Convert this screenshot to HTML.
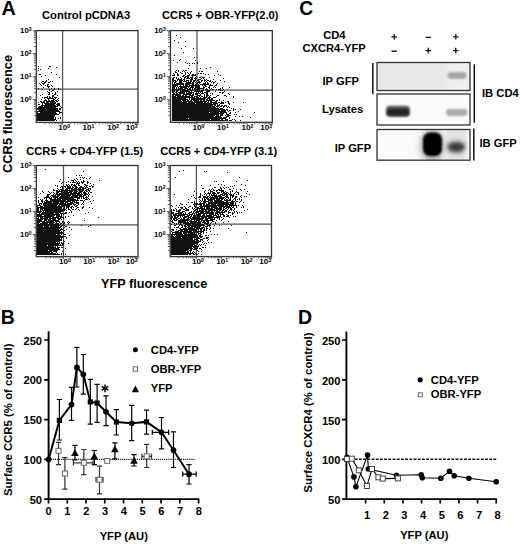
<!DOCTYPE html>
<html><head><meta charset="utf-8"><style>
html,body{margin:0;padding:0;background:#fff;}
svg{display:block;font-family:"Liberation Sans", sans-serif;}
</style></head><body>
<svg width="520" height="544" viewBox="0 0 520 544">
<rect width="520" height="544" fill="#fff"/>
<text x="1.40" y="15.30" font-size="19.8" text-anchor="start" font-weight="bold" >A</text>
<text x="42.00" y="19.10" font-size="11.2" text-anchor="start" font-weight="bold" >Control pCDNA3</text>
<text x="162.00" y="18.60" font-size="11.2" text-anchor="start" font-weight="bold" >CCR5 + OBR-YFP(2.0)</text>
<text x="26.20" y="155.00" font-size="11.2" text-anchor="start" font-weight="bold" >CCR5 + CD4-YFP (1.5)</text>
<text x="160.20" y="154.70" font-size="11.2" text-anchor="start" font-weight="bold" >CCR5 + CD4-YFP (3.1)</text>
<text transform="translate(12.3,113.9) rotate(-90)" font-size="12.9" text-anchor="middle" font-weight="bold">CCR5 fluorescence</text>
<text x="154.20" y="288.00" font-size="12.7" text-anchor="middle" font-weight="bold" >YFP fluorescence</text>
<line x1="62.60" y1="30.60" x2="62.60" y2="122.40" stroke="#555" stroke-width="1.25" />
<line x1="36.30" y1="89.00" x2="138.00" y2="89.00" stroke="#555" stroke-width="1.25" />
<path d="M38 66h1v1h-1zM49 66h2v1h-2zM56 67h1v1h-1zM38 68h1v1h-1zM48 68h1v1h-1zM40 69h1v1h-1zM38 70h1v1h-1zM51 72h1v1h-1zM39 74h2v1h-2zM56 74h1v1h-1zM45 75h1v1h-1zM41 76h1v1h-1zM59 77h1v1h-1zM48 79h1v1h-1zM46 80h1v1h-1zM42 81h2v1h-2zM45 81h2v1h-2zM50 81h1v1h-1zM52 81h1v1h-1zM41 82h1v1h-1zM44 82h2v1h-2zM48 82h2v1h-2zM39 83h1v1h-1zM42 83h3v1h-3zM40 84h1v1h-1zM43 84h1v1h-1zM47 84h2v1h-2zM41 85h1v1h-1zM45 85h1v1h-1zM47 85h1v1h-1zM51 85h1v1h-1zM47 86h3v1h-3zM52 86h1v1h-1zM43 87h1v1h-1zM48 87h1v1h-1zM38 88h1v1h-1zM51 88h1v1h-1zM54 88h1v1h-1zM58 88h1v1h-1zM42 89h1v1h-1zM49 89h1v1h-1zM54 89h1v1h-1zM58 89h1v1h-1zM60 89h1v1h-1zM49 90h1v1h-1zM52 90h2v1h-2zM47 91h1v1h-1zM51 91h1v1h-1zM57 91h1v1h-1zM48 92h2v1h-2zM55 92h1v1h-1zM49 93h1v1h-1zM52 93h1v1h-1zM55 93h1v1h-1zM42 94h1v1h-1zM48 94h2v1h-2zM54 94h2v1h-2zM40 95h1v1h-1zM52 95h2v1h-2zM57 95h1v1h-1zM47 96h1v1h-1zM49 96h1v1h-1zM52 96h2v1h-2zM42 97h1v1h-1zM44 97h4v1h-4zM49 97h2v1h-2zM52 97h1v1h-1zM54 97h3v1h-3zM44 98h1v1h-1zM47 98h7v1h-7zM55 98h1v1h-1zM58 98h1v1h-1zM41 99h1v1h-1zM45 99h1v1h-1zM48 99h1v1h-1zM53 99h2v1h-2zM57 99h1v1h-1zM44 100h3v1h-3zM48 100h2v1h-2zM51 100h3v1h-3zM55 100h2v1h-2zM58 100h1v1h-1zM62 100h1v1h-1zM40 101h2v1h-2zM43 101h2v1h-2zM46 101h9v1h-9zM56 101h2v1h-2zM38 102h1v1h-1zM41 102h4v1h-4zM46 102h3v1h-3zM50 102h6v1h-6zM62 102h1v1h-1zM42 103h1v1h-1zM44 103h12v1h-12zM57 103h3v1h-3zM38 104h2v1h-2zM42 104h1v1h-1zM45 104h10v1h-10zM56 104h4v1h-4zM41 105h15v1h-15zM57 105h3v1h-3zM39 106h4v1h-4zM44 106h14v1h-14zM60 106h1v1h-1zM38 107h18v1h-18zM61 107h1v1h-1zM37 108h21v1h-21zM59 108h2v1h-2zM37 109h21v1h-21zM59 109h2v1h-2zM39 110h20v1h-20zM37 111h23v1h-23zM37 112h1v1h-1zM40 112h16v1h-16zM59 112h3v1h-3zM37 113h20v1h-20zM59 113h1v1h-1zM37 114h22v1h-22zM37 115h18v1h-18zM37 116h18v1h-18zM37 117h17v1h-17zM55 117h1v1h-1zM60 117h1v1h-1zM37 118h17v1h-17zM55 118h1v1h-1zM58 118h1v1h-1zM60 118h1v1h-1zM37 119h19v1h-19zM37 120h18v1h-18zM56 120h1v1h-1z" fill="#111"/>
<rect x="36.30" y="30.60" width="101.70" height="91.80" fill="none" stroke="#333" stroke-width="1.3"/>
<path d="M32.70 30.60H36.30M33.90 46.68H36.30M33.90 42.63H36.30M33.90 39.75H36.30M33.90 37.52H36.30M33.90 35.70H36.30M33.90 34.16H36.30M33.90 32.83H36.30M33.90 31.65H36.30M32.70 53.60H36.30M33.90 69.68H36.30M33.90 65.63H36.30M33.90 62.75H36.30M33.90 60.52H36.30M33.90 58.70H36.30M33.90 57.16H36.30M33.90 55.83H36.30M33.90 54.65H36.30M32.70 76.60H36.30M33.90 92.68H36.30M33.90 88.63H36.30M33.90 85.75H36.30M33.90 83.52H36.30M33.90 81.70H36.30M33.90 80.16H36.30M33.90 78.83H36.30M33.90 77.65H36.30M32.70 99.60H36.30M33.90 115.68H36.30M33.90 111.63H36.30M33.90 108.75H36.30M33.90 106.52H36.30M33.90 104.70H36.30M33.90 103.16H36.30M33.90 101.83H36.30M33.90 100.65H36.30M45.03 122.40V124.20M49.46 122.40V124.20M52.60 122.40V124.20M55.03 122.40V124.20M57.02 122.40V124.20M58.71 122.40V124.20M60.16 122.40V124.20M61.45 122.40V124.20M62.60 122.40V125.00M70.17 122.40V124.20M74.59 122.40V124.20M77.73 122.40V124.20M80.17 122.40V124.20M82.16 122.40V124.20M83.84 122.40V124.20M85.30 122.40V124.20M86.58 122.40V124.20M87.73 122.40V125.00M95.30 122.40V124.20M99.72 122.40V124.20M102.87 122.40V124.20M105.30 122.40V124.20M107.29 122.40V124.20M108.97 122.40V124.20M110.43 122.40V124.20M111.72 122.40V124.20M112.87 122.40V125.00M120.43 122.40V124.20M124.86 122.40V124.20M128.00 122.40V124.20M130.43 122.40V124.20M132.42 122.40V124.20M134.11 122.40V124.20M135.56 122.40V124.20M136.85 122.40V124.20M138.00 122.40V125.00" stroke="#555" stroke-width="0.9" fill="none"/>
<text x="31.60" y="33.40" font-size="7.8" text-anchor="end" font-weight="bold">10<tspan font-size="5.1" dy="-2.6">3</tspan></text>
<text x="31.60" y="56.40" font-size="7.8" text-anchor="end" font-weight="bold">10<tspan font-size="5.1" dy="-2.6">2</tspan></text>
<text x="31.60" y="79.40" font-size="7.8" text-anchor="end" font-weight="bold">10<tspan font-size="5.1" dy="-2.6">1</tspan></text>
<text x="31.60" y="102.40" font-size="7.8" text-anchor="end" font-weight="bold">10<tspan font-size="5.1" dy="-2.6">0</tspan></text>
<text x="64.10" y="130.10" font-size="8.1" text-anchor="middle" font-weight="bold">10<tspan font-size="5.2" dy="-2.5">0</tspan></text>
<text x="88.48" y="130.10" font-size="8.1" text-anchor="middle" font-weight="bold">10<tspan font-size="5.2" dy="-2.5">1</tspan></text>
<text x="113.11" y="130.10" font-size="8.1" text-anchor="middle" font-weight="bold">10<tspan font-size="5.2" dy="-2.5">2</tspan></text>
<text x="131.80" y="130.10" font-size="8.1" text-anchor="middle" font-weight="bold">10<tspan font-size="5.2" dy="-2.5">3</tspan></text>
<line x1="197.00" y1="30.60" x2="197.00" y2="122.30" stroke="#555" stroke-width="1.25" />
<line x1="170.50" y1="90.00" x2="272.30" y2="90.00" stroke="#555" stroke-width="1.25" />
<path d="M176 35h1v1h-1zM180 37h1v1h-1zM174 40h1v1h-1zM185 41h1v1h-1zM178 42h1v1h-1zM185 46h1v1h-1zM181 48h1v1h-1zM193 48h1v1h-1zM183 52h1v1h-1zM174 55h1v1h-1zM194 57h1v1h-1zM180 59h1v1h-1zM173 60h1v1h-1zM179 60h1v1h-1zM195 60h1v1h-1zM177 62h1v1h-1zM185 62h1v1h-1zM197 62h1v1h-1zM187 63h1v1h-1zM189 63h1v1h-1zM192 63h1v1h-1zM194 63h1v1h-1zM197 63h1v1h-1zM189 65h1v1h-1zM210 67h1v1h-1zM188 68h1v1h-1zM200 68h1v1h-1zM206 68h1v1h-1zM176 70h1v1h-1zM178 70h1v1h-1zM183 70h1v1h-1zM185 70h2v1h-2zM175 71h1v1h-1zM178 71h1v1h-1zM182 71h1v1h-1zM184 71h1v1h-1zM191 71h1v1h-1zM199 71h1v1h-1zM201 71h2v1h-2zM217 71h1v1h-1zM175 72h2v1h-2zM180 72h1v1h-1zM185 72h1v1h-1zM187 72h1v1h-1zM190 72h1v1h-1zM173 73h1v1h-1zM177 73h1v1h-1zM181 73h2v1h-2zM185 73h1v1h-1zM188 73h1v1h-1zM190 73h1v1h-1zM198 73h1v1h-1zM200 73h2v1h-2zM203 73h1v1h-1zM174 74h1v1h-1zM177 74h2v1h-2zM185 74h1v1h-1zM189 74h1v1h-1zM192 74h2v1h-2zM195 74h1v1h-1zM205 74h1v1h-1zM208 74h1v1h-1zM218 74h1v1h-1zM172 75h3v1h-3zM177 75h2v1h-2zM183 75h2v1h-2zM187 75h3v1h-3zM191 75h5v1h-5zM214 75h1v1h-1zM220 75h1v1h-1zM182 76h2v1h-2zM185 76h4v1h-4zM192 76h1v1h-1zM196 76h1v1h-1zM201 76h1v1h-1zM173 77h2v1h-2zM176 77h1v1h-1zM180 77h1v1h-1zM184 77h2v1h-2zM187 77h2v1h-2zM190 77h3v1h-3zM195 77h1v1h-1zM199 77h2v1h-2zM202 77h3v1h-3zM209 77h1v1h-1zM172 78h2v1h-2zM176 78h1v1h-1zM178 78h1v1h-1zM181 78h1v1h-1zM184 78h1v1h-1zM186 78h4v1h-4zM191 78h2v1h-2zM194 78h3v1h-3zM201 78h1v1h-1zM203 78h1v1h-1zM223 78h1v1h-1zM172 79h2v1h-2zM177 79h5v1h-5zM183 79h2v1h-2zM190 79h3v1h-3zM195 79h1v1h-1zM198 79h3v1h-3zM204 79h1v1h-1zM206 79h1v1h-1zM213 79h1v1h-1zM172 80h4v1h-4zM177 80h1v1h-1zM179 80h4v1h-4zM184 80h1v1h-1zM186 80h3v1h-3zM190 80h2v1h-2zM193 80h3v1h-3zM197 80h2v1h-2zM201 80h2v1h-2zM204 80h2v1h-2zM207 80h2v1h-2zM210 80h1v1h-1zM220 80h1v1h-1zM172 81h2v1h-2zM175 81h2v1h-2zM179 81h3v1h-3zM183 81h4v1h-4zM188 81h1v1h-1zM190 81h2v1h-2zM193 81h2v1h-2zM196 81h1v1h-1zM198 81h2v1h-2zM201 81h1v1h-1zM204 81h1v1h-1zM206 81h1v1h-1zM209 81h2v1h-2zM212 81h1v1h-1zM215 81h1v1h-1zM224 81h1v1h-1zM172 82h1v1h-1zM174 82h2v1h-2zM179 82h3v1h-3zM186 82h5v1h-5zM192 82h2v1h-2zM195 82h1v1h-1zM197 82h4v1h-4zM205 82h1v1h-1zM207 82h1v1h-1zM211 82h1v1h-1zM213 82h2v1h-2zM172 83h1v1h-1zM174 83h1v1h-1zM176 83h8v1h-8zM185 83h9v1h-9zM196 83h2v1h-2zM199 83h1v1h-1zM203 83h3v1h-3zM207 83h2v1h-2zM213 83h1v1h-1zM217 83h1v1h-1zM172 84h12v1h-12zM185 84h5v1h-5zM192 84h2v1h-2zM195 84h2v1h-2zM198 84h1v1h-1zM200 84h9v1h-9zM210 84h1v1h-1zM216 84h1v1h-1zM172 85h6v1h-6zM180 85h1v1h-1zM183 85h1v1h-1zM185 85h3v1h-3zM189 85h11v1h-11zM202 85h1v1h-1zM204 85h2v1h-2zM209 85h4v1h-4zM215 85h2v1h-2zM172 86h4v1h-4zM177 86h1v1h-1zM179 86h11v1h-11zM191 86h3v1h-3zM195 86h5v1h-5zM203 86h1v1h-1zM205 86h2v1h-2zM209 86h1v1h-1zM214 86h1v1h-1zM172 87h3v1h-3zM176 87h1v1h-1zM178 87h1v1h-1zM180 87h7v1h-7zM188 87h1v1h-1zM190 87h4v1h-4zM195 87h5v1h-5zM203 87h2v1h-2zM208 87h2v1h-2zM213 87h1v1h-1zM215 87h1v1h-1zM222 87h1v1h-1zM229 87h1v1h-1zM172 88h3v1h-3zM176 88h1v1h-1zM178 88h5v1h-5zM184 88h4v1h-4zM189 88h2v1h-2zM192 88h1v1h-1zM194 88h2v1h-2zM197 88h7v1h-7zM206 88h1v1h-1zM209 88h1v1h-1zM211 88h1v1h-1zM220 88h1v1h-1zM222 88h1v1h-1zM172 89h14v1h-14zM187 89h4v1h-4zM192 89h1v1h-1zM194 89h6v1h-6zM203 89h1v1h-1zM205 89h3v1h-3zM210 89h1v1h-1zM212 89h2v1h-2zM216 89h1v1h-1zM218 89h3v1h-3zM223 89h1v1h-1zM172 90h3v1h-3zM176 90h3v1h-3zM180 90h1v1h-1zM182 90h7v1h-7zM190 90h4v1h-4zM195 90h1v1h-1zM197 90h3v1h-3zM201 90h3v1h-3zM207 90h3v1h-3zM220 90h1v1h-1zM222 90h1v1h-1zM172 91h3v1h-3zM176 91h2v1h-2zM180 91h10v1h-10zM191 91h1v1h-1zM194 91h9v1h-9zM206 91h4v1h-4zM215 91h1v1h-1zM224 91h1v1h-1zM172 92h2v1h-2zM175 92h2v1h-2zM178 92h7v1h-7zM186 92h1v1h-1zM188 92h6v1h-6zM196 92h1v1h-1zM198 92h1v1h-1zM200 92h1v1h-1zM202 92h1v1h-1zM204 92h4v1h-4zM219 92h2v1h-2zM222 92h2v1h-2zM173 93h2v1h-2zM176 93h2v1h-2zM179 93h6v1h-6zM186 93h6v1h-6zM193 93h1v1h-1zM195 93h5v1h-5zM201 93h3v1h-3zM206 93h2v1h-2zM210 93h1v1h-1zM212 93h1v1h-1zM222 93h1v1h-1zM228 93h1v1h-1zM172 94h9v1h-9zM183 94h8v1h-8zM192 94h2v1h-2zM195 94h3v1h-3zM200 94h1v1h-1zM204 94h1v1h-1zM206 94h2v1h-2zM212 94h1v1h-1zM229 94h1v1h-1zM172 95h2v1h-2zM175 95h6v1h-6zM182 95h2v1h-2zM185 95h2v1h-2zM189 95h5v1h-5zM197 95h4v1h-4zM204 95h1v1h-1zM206 95h3v1h-3zM210 95h1v1h-1zM217 95h2v1h-2zM224 95h2v1h-2zM172 96h4v1h-4zM177 96h13v1h-13zM191 96h2v1h-2zM194 96h4v1h-4zM199 96h1v1h-1zM201 96h2v1h-2zM204 96h1v1h-1zM206 96h2v1h-2zM209 96h1v1h-1zM216 96h1v1h-1zM226 96h1v1h-1zM233 96h1v1h-1zM172 97h23v1h-23zM196 97h3v1h-3zM200 97h1v1h-1zM203 97h4v1h-4zM208 97h3v1h-3zM213 97h3v1h-3zM233 97h1v1h-1zM172 98h14v1h-14zM189 98h1v1h-1zM191 98h15v1h-15zM207 98h3v1h-3zM211 98h2v1h-2zM172 99h16v1h-16zM189 99h1v1h-1zM191 99h14v1h-14zM206 99h2v1h-2zM209 99h4v1h-4zM219 99h1v1h-1zM172 100h9v1h-9zM182 100h4v1h-4zM187 100h2v1h-2zM190 100h2v1h-2zM193 100h6v1h-6zM200 100h2v1h-2zM203 100h2v1h-2zM206 100h9v1h-9zM216 100h2v1h-2zM219 100h1v1h-1zM223 100h1v1h-1zM172 101h10v1h-10zM183 101h10v1h-10zM194 101h13v1h-13zM208 101h1v1h-1zM210 101h2v1h-2zM215 101h2v1h-2zM221 101h1v1h-1zM227 101h2v1h-2zM172 102h15v1h-15zM188 102h15v1h-15zM204 102h2v1h-2zM207 102h2v1h-2zM210 102h7v1h-7zM218 102h2v1h-2zM221 102h3v1h-3zM225 102h1v1h-1zM228 102h1v1h-1zM233 102h1v1h-1zM243 102h1v1h-1zM172 103h23v1h-23zM196 103h16v1h-16zM213 103h5v1h-5zM220 103h4v1h-4zM228 103h2v1h-2zM172 104h44v1h-44zM217 104h1v1h-1zM219 104h1v1h-1zM229 104h1v1h-1zM172 105h41v1h-41zM214 105h2v1h-2zM217 105h3v1h-3zM221 105h2v1h-2zM224 105h3v1h-3zM172 106h43v1h-43zM216 106h3v1h-3zM220 106h2v1h-2zM223 106h2v1h-2zM226 106h1v1h-1zM228 106h1v1h-1zM172 107h44v1h-44zM217 107h1v1h-1zM219 107h1v1h-1zM223 107h1v1h-1zM227 107h1v1h-1zM229 107h1v1h-1zM172 108h47v1h-47zM220 108h3v1h-3zM231 108h1v1h-1zM233 108h1v1h-1zM172 109h53v1h-53zM226 109h2v1h-2zM233 109h1v1h-1zM235 109h1v1h-1zM240 109h1v1h-1zM172 110h48v1h-48zM221 110h5v1h-5zM227 110h1v1h-1zM229 110h2v1h-2zM233 110h1v1h-1zM172 111h54v1h-54zM228 111h1v1h-1zM238 111h1v1h-1zM172 112h37v1h-37zM210 112h9v1h-9zM220 112h7v1h-7zM230 112h1v1h-1zM235 112h1v1h-1zM254 112h1v1h-1zM172 113h52v1h-52zM226 113h1v1h-1zM229 113h2v1h-2zM172 114h47v1h-47zM220 114h3v1h-3zM226 114h3v1h-3zM234 114h1v1h-1zM236 114h1v1h-1zM172 115h43v1h-43zM216 115h3v1h-3zM220 115h3v1h-3zM225 115h1v1h-1zM227 115h4v1h-4zM172 116h42v1h-42zM215 116h6v1h-6zM226 116h3v1h-3zM235 116h1v1h-1zM239 116h1v1h-1zM242 116h1v1h-1zM172 117h50v1h-50zM223 117h4v1h-4zM229 117h1v1h-1zM250 117h1v1h-1zM172 118h16v1h-16zM189 118h37v1h-37zM229 118h1v1h-1zM172 119h38v1h-38zM211 119h9v1h-9zM221 119h2v1h-2zM225 119h3v1h-3zM232 119h1v1h-1zM234 119h1v1h-1zM172 120h56v1h-56zM229 120h3v1h-3zM235 120h1v1h-1zM240 120h1v1h-1z" fill="#111"/>
<rect x="170.50" y="30.60" width="101.80" height="91.70" fill="none" stroke="#333" stroke-width="1.3"/>
<path d="M166.90 30.60H170.50M168.10 46.68H170.50M168.10 42.63H170.50M168.10 39.75H170.50M168.10 37.52H170.50M168.10 35.70H170.50M168.10 34.16H170.50M168.10 32.83H170.50M168.10 31.65H170.50M166.90 53.60H170.50M168.10 69.68H170.50M168.10 65.63H170.50M168.10 62.75H170.50M168.10 60.52H170.50M168.10 58.70H170.50M168.10 57.16H170.50M168.10 55.83H170.50M168.10 54.65H170.50M166.90 76.60H170.50M168.10 92.68H170.50M168.10 88.63H170.50M168.10 85.75H170.50M168.10 83.52H170.50M168.10 81.70H170.50M168.10 80.16H170.50M168.10 78.83H170.50M168.10 77.65H170.50M166.90 99.60H170.50M168.10 115.68H170.50M168.10 111.63H170.50M168.10 108.75H170.50M168.10 106.52H170.50M168.10 104.70H170.50M168.10 103.16H170.50M168.10 101.83H170.50M168.10 100.65H170.50M179.46 122.30V124.10M183.88 122.30V124.10M187.01 122.30V124.10M189.44 122.30V124.10M191.43 122.30V124.10M193.11 122.30V124.10M194.57 122.30V124.10M195.85 122.30V124.10M197.00 122.30V124.90M204.56 122.30V124.10M208.98 122.30V124.10M212.11 122.30V124.10M214.54 122.30V124.10M216.53 122.30V124.10M218.21 122.30V124.10M219.67 122.30V124.10M220.95 122.30V124.10M222.10 122.30V124.90M229.66 122.30V124.10M234.08 122.30V124.10M237.21 122.30V124.10M239.64 122.30V124.10M241.63 122.30V124.10M243.31 122.30V124.10M244.77 122.30V124.10M246.05 122.30V124.10M247.20 122.30V124.90M254.76 122.30V124.10M259.18 122.30V124.10M262.31 122.30V124.10M264.74 122.30V124.10M266.73 122.30V124.10M268.41 122.30V124.10M269.87 122.30V124.10M271.15 122.30V124.10M272.30 122.30V124.90" stroke="#555" stroke-width="0.9" fill="none"/>
<text x="165.80" y="33.40" font-size="7.8" text-anchor="end" font-weight="bold">10<tspan font-size="5.1" dy="-2.6">3</tspan></text>
<text x="165.80" y="56.40" font-size="7.8" text-anchor="end" font-weight="bold">10<tspan font-size="5.1" dy="-2.6">2</tspan></text>
<text x="165.80" y="79.40" font-size="7.8" text-anchor="end" font-weight="bold">10<tspan font-size="5.1" dy="-2.6">1</tspan></text>
<text x="165.80" y="102.40" font-size="7.8" text-anchor="end" font-weight="bold">10<tspan font-size="5.1" dy="-2.6">0</tspan></text>
<text x="198.50" y="130.00" font-size="8.1" text-anchor="middle" font-weight="bold">10<tspan font-size="5.2" dy="-2.5">0</tspan></text>
<text x="222.85" y="130.00" font-size="8.1" text-anchor="middle" font-weight="bold">10<tspan font-size="5.2" dy="-2.5">1</tspan></text>
<text x="247.44" y="130.00" font-size="8.1" text-anchor="middle" font-weight="bold">10<tspan font-size="5.2" dy="-2.5">2</tspan></text>
<text x="266.10" y="130.00" font-size="8.1" text-anchor="middle" font-weight="bold">10<tspan font-size="5.2" dy="-2.5">3</tspan></text>
<line x1="63.50" y1="165.50" x2="63.50" y2="256.60" stroke="#555" stroke-width="1.25" />
<line x1="36.30" y1="224.90" x2="138.00" y2="224.90" stroke="#555" stroke-width="1.25" />
<path d="M45 169h1v1h-1zM83 171h1v1h-1zM76 175h1v1h-1zM79 175h1v1h-1zM81 175h1v1h-1zM68 177h1v1h-1zM80 177h1v1h-1zM82 177h1v1h-1zM84 177h1v1h-1zM90 177h1v1h-1zM76 178h1v1h-1zM83 178h1v1h-1zM86 178h1v1h-1zM89 178h1v1h-1zM60 179h1v1h-1zM74 179h1v1h-1zM77 179h1v1h-1zM80 179h1v1h-1zM71 180h3v1h-3zM75 180h1v1h-1zM83 180h1v1h-1zM99 180h1v1h-1zM59 181h1v1h-1zM68 181h1v1h-1zM73 181h1v1h-1zM76 181h1v1h-1zM78 181h1v1h-1zM81 181h1v1h-1zM83 181h2v1h-2zM87 181h1v1h-1zM62 182h1v1h-1zM66 182h1v1h-1zM70 182h1v1h-1zM72 182h4v1h-4zM77 182h1v1h-1zM79 182h1v1h-1zM81 182h3v1h-3zM87 182h2v1h-2zM61 183h1v1h-1zM76 183h4v1h-4zM82 183h1v1h-1zM87 183h1v1h-1zM90 183h1v1h-1zM66 184h1v1h-1zM68 184h1v1h-1zM71 184h2v1h-2zM74 184h1v1h-1zM76 184h1v1h-1zM78 184h1v1h-1zM84 184h2v1h-2zM93 184h1v1h-1zM55 185h1v1h-1zM57 185h1v1h-1zM66 185h2v1h-2zM69 185h1v1h-1zM71 185h1v1h-1zM73 185h3v1h-3zM78 185h2v1h-2zM85 185h3v1h-3zM91 185h1v1h-1zM57 186h1v1h-1zM61 186h2v1h-2zM64 186h2v1h-2zM67 186h4v1h-4zM72 186h1v1h-1zM74 186h3v1h-3zM80 186h2v1h-2zM84 186h1v1h-1zM86 186h1v1h-1zM89 186h2v1h-2zM92 186h2v1h-2zM60 187h1v1h-1zM62 187h1v1h-1zM65 187h1v1h-1zM67 187h4v1h-4zM72 187h2v1h-2zM75 187h3v1h-3zM79 187h5v1h-5zM85 187h3v1h-3zM92 187h1v1h-1zM57 188h1v1h-1zM62 188h1v1h-1zM66 188h7v1h-7zM74 188h3v1h-3zM78 188h3v1h-3zM82 188h4v1h-4zM88 188h3v1h-3zM53 189h1v1h-1zM58 189h1v1h-1zM60 189h3v1h-3zM65 189h3v1h-3zM69 189h1v1h-1zM71 189h13v1h-13zM86 189h3v1h-3zM90 189h1v1h-1zM53 190h2v1h-2zM56 190h2v1h-2zM59 190h1v1h-1zM61 190h16v1h-16zM78 190h6v1h-6zM85 190h2v1h-2zM88 190h2v1h-2zM42 191h1v1h-1zM48 191h1v1h-1zM56 191h7v1h-7zM64 191h4v1h-4zM69 191h4v1h-4zM74 191h4v1h-4zM79 191h4v1h-4zM84 191h1v1h-1zM86 191h2v1h-2zM89 191h1v1h-1zM43 192h1v1h-1zM49 192h1v1h-1zM51 192h1v1h-1zM53 192h1v1h-1zM56 192h3v1h-3zM61 192h11v1h-11zM73 192h4v1h-4zM78 192h4v1h-4zM83 192h3v1h-3zM88 192h1v1h-1zM90 192h2v1h-2zM40 193h1v1h-1zM50 193h1v1h-1zM54 193h1v1h-1zM56 193h2v1h-2zM59 193h10v1h-10zM70 193h10v1h-10zM81 193h1v1h-1zM83 193h4v1h-4zM88 193h1v1h-1zM47 194h3v1h-3zM53 194h1v1h-1zM55 194h21v1h-21zM77 194h6v1h-6zM84 194h4v1h-4zM89 194h1v1h-1zM47 195h2v1h-2zM51 195h5v1h-5zM57 195h3v1h-3zM61 195h10v1h-10zM72 195h10v1h-10zM83 195h3v1h-3zM88 195h1v1h-1zM46 196h3v1h-3zM50 196h1v1h-1zM52 196h7v1h-7zM60 196h10v1h-10zM71 196h7v1h-7zM79 196h5v1h-5zM86 196h1v1h-1zM88 196h1v1h-1zM92 196h1v1h-1zM38 197h1v1h-1zM44 197h6v1h-6zM51 197h1v1h-1zM53 197h5v1h-5zM59 197h21v1h-21zM81 197h1v1h-1zM83 197h1v1h-1zM85 197h3v1h-3zM44 198h1v1h-1zM46 198h1v1h-1zM49 198h3v1h-3zM54 198h2v1h-2zM57 198h17v1h-17zM77 198h3v1h-3zM81 198h1v1h-1zM83 198h2v1h-2zM86 198h1v1h-1zM88 198h1v1h-1zM40 199h1v1h-1zM42 199h1v1h-1zM46 199h1v1h-1zM50 199h11v1h-11zM62 199h14v1h-14zM77 199h1v1h-1zM85 199h3v1h-3zM89 199h1v1h-1zM38 200h1v1h-1zM41 200h2v1h-2zM45 200h3v1h-3zM50 200h16v1h-16zM67 200h12v1h-12zM80 200h3v1h-3zM84 200h1v1h-1zM93 200h1v1h-1zM38 201h1v1h-1zM41 201h2v1h-2zM44 201h1v1h-1zM46 201h25v1h-25zM72 201h3v1h-3zM76 201h1v1h-1zM83 201h1v1h-1zM90 201h1v1h-1zM38 202h1v1h-1zM42 202h1v1h-1zM44 202h8v1h-8zM53 202h6v1h-6zM60 202h4v1h-4zM65 202h3v1h-3zM70 202h3v1h-3zM74 202h5v1h-5zM83 202h1v1h-1zM39 203h3v1h-3zM43 203h23v1h-23zM67 203h7v1h-7zM76 203h3v1h-3zM82 203h1v1h-1zM91 203h1v1h-1zM39 204h1v1h-1zM41 204h1v1h-1zM43 204h15v1h-15zM59 204h13v1h-13zM73 204h3v1h-3zM78 204h1v1h-1zM81 204h1v1h-1zM83 204h1v1h-1zM37 205h4v1h-4zM43 205h14v1h-14zM58 205h2v1h-2zM61 205h9v1h-9zM74 205h1v1h-1zM76 205h2v1h-2zM37 206h1v1h-1zM40 206h3v1h-3zM44 206h21v1h-21zM66 206h4v1h-4zM71 206h2v1h-2zM75 206h2v1h-2zM83 206h1v1h-1zM37 207h25v1h-25zM64 207h1v1h-1zM66 207h3v1h-3zM70 207h2v1h-2zM73 207h1v1h-1zM77 207h2v1h-2zM82 207h2v1h-2zM89 207h1v1h-1zM37 208h2v1h-2zM40 208h22v1h-22zM63 208h2v1h-2zM66 208h1v1h-1zM68 208h1v1h-1zM71 208h1v1h-1zM76 208h1v1h-1zM82 208h1v1h-1zM92 208h1v1h-1zM37 209h2v1h-2zM40 209h3v1h-3zM44 209h22v1h-22zM68 209h2v1h-2zM72 209h2v1h-2zM75 209h1v1h-1zM78 209h1v1h-1zM37 210h2v1h-2zM40 210h1v1h-1zM42 210h23v1h-23zM66 210h1v1h-1zM70 210h1v1h-1zM79 210h1v1h-1zM37 211h5v1h-5zM43 211h1v1h-1zM45 211h18v1h-18zM71 211h1v1h-1zM37 212h4v1h-4zM42 212h19v1h-19zM65 212h2v1h-2zM69 212h1v1h-1zM71 212h1v1h-1zM88 212h1v1h-1zM39 213h1v1h-1zM41 213h13v1h-13zM55 213h4v1h-4zM60 213h3v1h-3zM64 213h3v1h-3zM85 213h1v1h-1zM37 214h23v1h-23zM61 214h1v1h-1zM63 214h1v1h-1zM37 215h5v1h-5zM44 215h11v1h-11zM56 215h4v1h-4zM61 215h1v1h-1zM73 215h1v1h-1zM37 216h17v1h-17zM56 216h6v1h-6zM65 216h1v1h-1zM68 216h1v1h-1zM38 217h1v1h-1zM40 217h3v1h-3zM44 217h7v1h-7zM52 217h7v1h-7zM60 217h4v1h-4zM65 217h1v1h-1zM98 217h1v1h-1zM37 218h2v1h-2zM40 218h8v1h-8zM49 218h7v1h-7zM57 218h4v1h-4zM63 218h1v1h-1zM37 219h6v1h-6zM44 219h7v1h-7zM52 219h4v1h-4zM58 219h2v1h-2zM61 219h1v1h-1zM37 220h5v1h-5zM44 220h3v1h-3zM48 220h11v1h-11zM84 220h1v1h-1zM37 221h8v1h-8zM46 221h8v1h-8zM55 221h5v1h-5zM62 221h1v1h-1zM68 221h1v1h-1zM37 222h3v1h-3zM42 222h13v1h-13zM56 222h1v1h-1zM59 222h1v1h-1zM62 222h1v1h-1zM64 222h1v1h-1zM67 222h1v1h-1zM69 222h1v1h-1zM37 223h2v1h-2zM40 223h8v1h-8zM49 223h5v1h-5zM55 223h4v1h-4zM60 223h2v1h-2zM63 223h2v1h-2zM68 223h1v1h-1zM37 224h22v1h-22zM60 224h1v1h-1zM63 224h1v1h-1zM37 225h23v1h-23zM61 225h2v1h-2zM64 225h1v1h-1zM81 225h1v1h-1zM90 225h1v1h-1zM37 226h6v1h-6zM44 226h5v1h-5zM50 226h9v1h-9zM60 226h2v1h-2zM65 226h2v1h-2zM88 226h1v1h-1zM37 227h24v1h-24zM64 227h1v1h-1zM69 227h1v1h-1zM37 228h23v1h-23zM61 228h1v1h-1zM63 228h1v1h-1zM37 229h22v1h-22zM60 229h3v1h-3zM66 229h1v1h-1zM71 229h1v1h-1zM37 230h24v1h-24zM64 230h1v1h-1zM37 231h23v1h-23zM61 231h1v1h-1zM63 231h1v1h-1zM37 232h26v1h-26zM37 233h27v1h-27zM37 234h19v1h-19zM57 234h3v1h-3zM61 234h1v1h-1zM63 234h3v1h-3zM37 235h24v1h-24zM69 235h1v1h-1zM37 236h29v1h-29zM37 237h26v1h-26zM66 237h1v1h-1zM37 238h23v1h-23zM61 238h1v1h-1zM66 238h1v1h-1zM37 239h25v1h-25zM37 240h25v1h-25zM63 240h1v1h-1zM37 241h23v1h-23zM64 241h1v1h-1zM37 242h19v1h-19zM57 242h1v1h-1zM59 242h1v1h-1zM61 242h1v1h-1zM63 242h1v1h-1zM37 243h23v1h-23zM61 243h3v1h-3zM68 243h1v1h-1zM37 244h22v1h-22zM60 244h1v1h-1zM62 244h2v1h-2zM37 245h10v1h-10zM48 245h15v1h-15zM37 246h17v1h-17zM55 246h1v1h-1zM57 246h1v1h-1zM37 247h19v1h-19zM57 247h3v1h-3zM61 247h2v1h-2zM37 248h22v1h-22zM65 248h1v1h-1zM37 249h23v1h-23zM37 250h11v1h-11zM49 250h9v1h-9zM37 251h15v1h-15zM53 251h4v1h-4zM62 251h1v1h-1zM37 252h13v1h-13zM51 252h2v1h-2zM56 252h1v1h-1zM37 253h19v1h-19zM57 253h1v1h-1zM61 253h1v1h-1zM63 253h1v1h-1zM37 254h23v1h-23zM61 254h1v1h-1zM65 254h1v1h-1z" fill="#111"/>
<rect x="36.30" y="165.50" width="101.70" height="91.10" fill="none" stroke="#333" stroke-width="1.3"/>
<path d="M32.70 165.50H36.30M33.90 181.58H36.30M33.90 177.53H36.30M33.90 174.65H36.30M33.90 172.42H36.30M33.90 170.60H36.30M33.90 169.06H36.30M33.90 167.73H36.30M33.90 166.55H36.30M32.70 188.50H36.30M33.90 204.58H36.30M33.90 200.53H36.30M33.90 197.65H36.30M33.90 195.42H36.30M33.90 193.60H36.30M33.90 192.06H36.30M33.90 190.73H36.30M33.90 189.55H36.30M32.70 211.50H36.30M33.90 227.58H36.30M33.90 223.53H36.30M33.90 220.65H36.30M33.90 218.42H36.30M33.90 216.60H36.30M33.90 215.06H36.30M33.90 213.73H36.30M33.90 212.55H36.30M32.70 234.50H36.30M33.90 250.58H36.30M33.90 246.53H36.30M33.90 243.65H36.30M33.90 241.42H36.30M33.90 239.60H36.30M33.90 238.06H36.30M33.90 236.73H36.30M33.90 235.55H36.30M46.14 256.60V258.40M50.52 256.60V258.40M53.62 256.60V258.40M56.02 256.60V258.40M57.99 256.60V258.40M59.65 256.60V258.40M61.09 256.60V258.40M62.36 256.60V258.40M63.50 256.60V259.20M70.98 256.60V258.40M75.35 256.60V258.40M78.45 256.60V258.40M80.86 256.60V258.40M82.82 256.60V258.40M84.49 256.60V258.40M85.93 256.60V258.40M87.20 256.60V258.40M88.33 256.60V259.20M95.81 256.60V258.40M100.18 256.60V258.40M103.28 256.60V258.40M105.69 256.60V258.40M107.66 256.60V258.40M109.32 256.60V258.40M110.76 256.60V258.40M112.03 256.60V258.40M113.17 256.60V259.20M120.64 256.60V258.40M125.02 256.60V258.40M128.12 256.60V258.40M130.52 256.60V258.40M132.49 256.60V258.40M134.15 256.60V258.40M135.59 256.60V258.40M136.86 256.60V258.40M138.00 256.60V259.20" stroke="#555" stroke-width="0.9" fill="none"/>
<text x="31.60" y="168.30" font-size="7.8" text-anchor="end" font-weight="bold">10<tspan font-size="5.1" dy="-2.6">3</tspan></text>
<text x="31.60" y="191.30" font-size="7.8" text-anchor="end" font-weight="bold">10<tspan font-size="5.1" dy="-2.6">2</tspan></text>
<text x="31.60" y="214.30" font-size="7.8" text-anchor="end" font-weight="bold">10<tspan font-size="5.1" dy="-2.6">1</tspan></text>
<text x="31.60" y="237.30" font-size="7.8" text-anchor="end" font-weight="bold">10<tspan font-size="5.1" dy="-2.6">0</tspan></text>
<text x="65.00" y="264.30" font-size="8.1" text-anchor="middle" font-weight="bold">10<tspan font-size="5.2" dy="-2.5">0</tspan></text>
<text x="89.09" y="264.30" font-size="8.1" text-anchor="middle" font-weight="bold">10<tspan font-size="5.2" dy="-2.5">1</tspan></text>
<text x="113.42" y="264.30" font-size="8.1" text-anchor="middle" font-weight="bold">10<tspan font-size="5.2" dy="-2.5">2</tspan></text>
<text x="131.80" y="264.30" font-size="8.1" text-anchor="middle" font-weight="bold">10<tspan font-size="5.2" dy="-2.5">3</tspan></text>
<line x1="196.40" y1="165.50" x2="196.40" y2="256.60" stroke="#555" stroke-width="1.25" />
<line x1="170.20" y1="224.20" x2="271.50" y2="224.20" stroke="#555" stroke-width="1.25" />
<path d="M183 170h1v1h-1zM179 171h1v1h-1zM204 171h1v1h-1zM206 171h1v1h-1zM227 172h1v1h-1zM175 177h1v1h-1zM239 177h1v1h-1zM247 180h1v1h-1zM214 181h1v1h-1zM216 181h1v1h-1zM223 181h1v1h-1zM236 181h1v1h-1zM218 184h1v1h-1zM221 184h1v1h-1zM241 184h1v1h-1zM201 185h1v1h-1zM210 185h1v1h-1zM224 185h1v1h-1zM234 185h1v1h-1zM245 185h1v1h-1zM230 186h1v1h-1zM232 186h1v1h-1zM214 187h2v1h-2zM220 187h1v1h-1zM223 187h1v1h-1zM226 187h1v1h-1zM228 187h1v1h-1zM202 188h2v1h-2zM212 188h1v1h-1zM220 188h2v1h-2zM224 188h1v1h-1zM233 188h1v1h-1zM209 189h1v1h-1zM211 189h1v1h-1zM213 189h1v1h-1zM218 189h2v1h-2zM221 189h1v1h-1zM229 189h2v1h-2zM236 189h1v1h-1zM240 189h1v1h-1zM244 189h1v1h-1zM205 190h1v1h-1zM208 190h1v1h-1zM210 190h1v1h-1zM213 190h2v1h-2zM216 190h2v1h-2zM219 190h5v1h-5zM232 190h1v1h-1zM241 190h1v1h-1zM194 191h1v1h-1zM204 191h1v1h-1zM210 191h3v1h-3zM216 191h1v1h-1zM221 191h3v1h-3zM225 191h1v1h-1zM230 191h1v1h-1zM232 191h1v1h-1zM236 191h1v1h-1zM247 191h1v1h-1zM204 192h1v1h-1zM208 192h1v1h-1zM210 192h1v1h-1zM212 192h3v1h-3zM217 192h3v1h-3zM221 192h1v1h-1zM223 192h2v1h-2zM226 192h2v1h-2zM230 192h1v1h-1zM235 192h1v1h-1zM237 192h2v1h-2zM196 193h1v1h-1zM200 193h1v1h-1zM205 193h1v1h-1zM207 193h4v1h-4zM212 193h4v1h-4zM217 193h2v1h-2zM222 193h5v1h-5zM228 193h1v1h-1zM230 193h1v1h-1zM234 193h1v1h-1zM238 193h1v1h-1zM246 193h1v1h-1zM174 194h1v1h-1zM200 194h1v1h-1zM204 194h1v1h-1zM206 194h1v1h-1zM209 194h1v1h-1zM211 194h1v1h-1zM213 194h2v1h-2zM216 194h1v1h-1zM220 194h3v1h-3zM224 194h4v1h-4zM229 194h3v1h-3zM233 194h1v1h-1zM236 194h1v1h-1zM238 194h1v1h-1zM249 194h1v1h-1zM193 195h1v1h-1zM200 195h1v1h-1zM202 195h1v1h-1zM206 195h1v1h-1zM209 195h1v1h-1zM211 195h6v1h-6zM218 195h3v1h-3zM222 195h3v1h-3zM226 195h2v1h-2zM230 195h4v1h-4zM241 195h1v1h-1zM191 196h1v1h-1zM199 196h2v1h-2zM203 196h3v1h-3zM207 196h2v1h-2zM210 196h1v1h-1zM212 196h1v1h-1zM214 196h8v1h-8zM225 196h3v1h-3zM230 196h1v1h-1zM232 196h2v1h-2zM235 196h2v1h-2zM240 196h1v1h-1zM244 196h1v1h-1zM246 196h1v1h-1zM194 197h1v1h-1zM198 197h3v1h-3zM203 197h5v1h-5zM209 197h9v1h-9zM219 197h6v1h-6zM226 197h3v1h-3zM230 197h1v1h-1zM232 197h1v1h-1zM235 197h2v1h-2zM241 197h1v1h-1zM195 198h1v1h-1zM202 198h1v1h-1zM204 198h1v1h-1zM206 198h3v1h-3zM210 198h14v1h-14zM225 198h1v1h-1zM228 198h1v1h-1zM230 198h1v1h-1zM234 198h2v1h-2zM239 198h1v1h-1zM188 199h1v1h-1zM199 199h1v1h-1zM202 199h1v1h-1zM204 199h2v1h-2zM207 199h8v1h-8zM216 199h4v1h-4zM221 199h2v1h-2zM224 199h1v1h-1zM226 199h2v1h-2zM229 199h2v1h-2zM233 199h1v1h-1zM235 199h1v1h-1zM237 199h1v1h-1zM239 199h1v1h-1zM241 199h1v1h-1zM200 200h1v1h-1zM202 200h1v1h-1zM204 200h2v1h-2zM208 200h5v1h-5zM214 200h8v1h-8zM224 200h7v1h-7zM232 200h1v1h-1zM235 200h1v1h-1zM241 200h1v1h-1zM194 201h1v1h-1zM199 201h1v1h-1zM201 201h1v1h-1zM203 201h6v1h-6zM210 201h3v1h-3zM214 201h10v1h-10zM226 201h2v1h-2zM231 201h4v1h-4zM236 201h2v1h-2zM240 201h1v1h-1zM188 202h1v1h-1zM191 202h2v1h-2zM194 202h1v1h-1zM200 202h1v1h-1zM203 202h3v1h-3zM208 202h26v1h-26zM235 202h1v1h-1zM239 202h1v1h-1zM243 202h1v1h-1zM180 203h1v1h-1zM194 203h4v1h-4zM199 203h6v1h-6zM206 203h1v1h-1zM208 203h21v1h-21zM230 203h4v1h-4zM235 203h1v1h-1zM181 204h2v1h-2zM186 204h1v1h-1zM193 204h9v1h-9zM203 204h2v1h-2zM206 204h4v1h-4zM211 204h5v1h-5zM217 204h17v1h-17zM235 204h1v1h-1zM171 205h1v1h-1zM176 205h1v1h-1zM179 205h1v1h-1zM194 205h1v1h-1zM196 205h1v1h-1zM200 205h2v1h-2zM203 205h21v1h-21zM225 205h3v1h-3zM229 205h8v1h-8zM238 205h1v1h-1zM242 205h1v1h-1zM172 206h1v1h-1zM184 206h1v1h-1zM189 206h2v1h-2zM194 206h2v1h-2zM199 206h18v1h-18zM218 206h12v1h-12zM231 206h1v1h-1zM233 206h1v1h-1zM236 206h1v1h-1zM243 206h1v1h-1zM178 207h1v1h-1zM180 207h3v1h-3zM185 207h1v1h-1zM188 207h1v1h-1zM192 207h1v1h-1zM195 207h1v1h-1zM197 207h2v1h-2zM200 207h3v1h-3zM204 207h1v1h-1zM206 207h4v1h-4zM211 207h7v1h-7zM219 207h3v1h-3zM223 207h2v1h-2zM226 207h5v1h-5zM232 207h2v1h-2zM236 207h1v1h-1zM241 207h1v1h-1zM243 207h1v1h-1zM175 208h1v1h-1zM181 208h2v1h-2zM185 208h2v1h-2zM192 208h1v1h-1zM194 208h1v1h-1zM197 208h8v1h-8zM206 208h7v1h-7zM214 208h8v1h-8zM223 208h1v1h-1zM225 208h2v1h-2zM228 208h1v1h-1zM230 208h2v1h-2zM234 208h1v1h-1zM171 209h1v1h-1zM173 209h1v1h-1zM176 209h1v1h-1zM179 209h2v1h-2zM183 209h2v1h-2zM186 209h3v1h-3zM193 209h1v1h-1zM195 209h3v1h-3zM199 209h1v1h-1zM201 209h14v1h-14zM216 209h6v1h-6zM223 209h2v1h-2zM227 209h1v1h-1zM230 209h2v1h-2zM234 209h1v1h-1zM247 209h1v1h-1zM171 210h1v1h-1zM173 210h2v1h-2zM176 210h1v1h-1zM178 210h3v1h-3zM185 210h4v1h-4zM194 210h2v1h-2zM197 210h1v1h-1zM199 210h5v1h-5zM205 210h2v1h-2zM208 210h10v1h-10zM219 210h2v1h-2zM222 210h2v1h-2zM225 210h2v1h-2zM229 210h1v1h-1zM231 210h1v1h-1zM233 210h1v1h-1zM244 210h1v1h-1zM171 211h1v1h-1zM176 211h4v1h-4zM182 211h3v1h-3zM191 211h1v1h-1zM193 211h2v1h-2zM196 211h14v1h-14zM211 211h2v1h-2zM214 211h1v1h-1zM216 211h4v1h-4zM221 211h2v1h-2zM224 211h3v1h-3zM228 211h1v1h-1zM234 211h1v1h-1zM236 211h1v1h-1zM171 212h3v1h-3zM178 212h5v1h-5zM185 212h1v1h-1zM189 212h3v1h-3zM193 212h1v1h-1zM195 212h4v1h-4zM200 212h4v1h-4zM205 212h9v1h-9zM215 212h10v1h-10zM228 212h3v1h-3zM232 212h1v1h-1zM234 212h1v1h-1zM237 212h1v1h-1zM239 212h1v1h-1zM241 212h1v1h-1zM171 213h3v1h-3zM175 213h7v1h-7zM183 213h1v1h-1zM185 213h1v1h-1zM188 213h2v1h-2zM192 213h3v1h-3zM196 213h1v1h-1zM198 213h16v1h-16zM215 213h3v1h-3zM219 213h2v1h-2zM222 213h1v1h-1zM228 213h1v1h-1zM232 213h2v1h-2zM237 213h1v1h-1zM171 214h1v1h-1zM173 214h4v1h-4zM178 214h10v1h-10zM189 214h4v1h-4zM194 214h1v1h-1zM196 214h5v1h-5zM203 214h2v1h-2zM206 214h1v1h-1zM209 214h5v1h-5zM215 214h1v1h-1zM217 214h2v1h-2zM220 214h4v1h-4zM226 214h1v1h-1zM232 214h1v1h-1zM171 215h1v1h-1zM173 215h12v1h-12zM187 215h3v1h-3zM191 215h1v1h-1zM193 215h3v1h-3zM197 215h4v1h-4zM202 215h3v1h-3zM206 215h6v1h-6zM213 215h4v1h-4zM218 215h1v1h-1zM220 215h1v1h-1zM223 215h2v1h-2zM227 215h2v1h-2zM230 215h1v1h-1zM171 216h2v1h-2zM174 216h2v1h-2zM177 216h2v1h-2zM180 216h1v1h-1zM182 216h1v1h-1zM184 216h5v1h-5zM190 216h2v1h-2zM193 216h3v1h-3zM197 216h17v1h-17zM216 216h5v1h-5zM223 216h2v1h-2zM226 216h3v1h-3zM233 216h1v1h-1zM235 216h1v1h-1zM171 217h2v1h-2zM174 217h4v1h-4zM180 217h1v1h-1zM183 217h4v1h-4zM188 217h3v1h-3zM192 217h8v1h-8zM201 217h6v1h-6zM208 217h12v1h-12zM221 217h1v1h-1zM229 217h1v1h-1zM171 218h1v1h-1zM173 218h4v1h-4zM178 218h2v1h-2zM181 218h1v1h-1zM183 218h2v1h-2zM187 218h2v1h-2zM190 218h14v1h-14zM205 218h8v1h-8zM214 218h1v1h-1zM217 218h1v1h-1zM219 218h1v1h-1zM223 218h1v1h-1zM171 219h1v1h-1zM173 219h2v1h-2zM176 219h2v1h-2zM180 219h10v1h-10zM191 219h12v1h-12zM205 219h3v1h-3zM210 219h5v1h-5zM219 219h1v1h-1zM222 219h1v1h-1zM172 220h1v1h-1zM174 220h3v1h-3zM178 220h11v1h-11zM190 220h2v1h-2zM194 220h1v1h-1zM196 220h4v1h-4zM201 220h12v1h-12zM216 220h1v1h-1zM221 220h1v1h-1zM171 221h2v1h-2zM178 221h8v1h-8zM187 221h1v1h-1zM189 221h8v1h-8zM198 221h4v1h-4zM203 221h2v1h-2zM206 221h3v1h-3zM212 221h2v1h-2zM228 221h1v1h-1zM172 222h2v1h-2zM178 222h11v1h-11zM190 222h11v1h-11zM202 222h4v1h-4zM207 222h2v1h-2zM211 222h1v1h-1zM215 222h1v1h-1zM223 222h1v1h-1zM174 223h1v1h-1zM176 223h1v1h-1zM178 223h1v1h-1zM180 223h1v1h-1zM183 223h13v1h-13zM197 223h4v1h-4zM204 223h5v1h-5zM210 223h1v1h-1zM215 223h1v1h-1zM171 224h1v1h-1zM176 224h1v1h-1zM179 224h3v1h-3zM185 224h6v1h-6zM192 224h12v1h-12zM206 224h2v1h-2zM209 224h1v1h-1zM174 225h2v1h-2zM179 225h1v1h-1zM181 225h2v1h-2zM184 225h2v1h-2zM187 225h18v1h-18zM207 225h4v1h-4zM214 225h1v1h-1zM219 225h1v1h-1zM231 225h1v1h-1zM178 226h1v1h-1zM182 226h1v1h-1zM184 226h3v1h-3zM188 226h2v1h-2zM191 226h5v1h-5zM197 226h4v1h-4zM203 226h1v1h-1zM205 226h3v1h-3zM209 226h1v1h-1zM174 227h1v1h-1zM176 227h3v1h-3zM181 227h2v1h-2zM185 227h1v1h-1zM187 227h6v1h-6zM194 227h6v1h-6zM201 227h4v1h-4zM206 227h1v1h-1zM210 227h1v1h-1zM179 228h2v1h-2zM183 228h4v1h-4zM188 228h7v1h-7zM196 228h7v1h-7zM204 228h1v1h-1zM206 228h2v1h-2zM210 228h1v1h-1zM213 228h1v1h-1zM228 228h1v1h-1zM171 229h3v1h-3zM176 229h1v1h-1zM180 229h19v1h-19zM200 229h2v1h-2zM203 229h2v1h-2zM206 229h1v1h-1zM209 229h1v1h-1zM172 230h2v1h-2zM178 230h5v1h-5zM184 230h4v1h-4zM189 230h8v1h-8zM198 230h1v1h-1zM200 230h2v1h-2zM203 230h2v1h-2zM206 230h1v1h-1zM171 231h1v1h-1zM175 231h4v1h-4zM180 231h12v1h-12zM193 231h11v1h-11zM210 231h1v1h-1zM172 232h10v1h-10zM183 232h13v1h-13zM197 232h2v1h-2zM200 232h2v1h-2zM203 232h1v1h-1zM206 232h1v1h-1zM246 232h1v1h-1zM172 233h1v1h-1zM175 233h7v1h-7zM183 233h4v1h-4zM188 233h7v1h-7zM196 233h1v1h-1zM198 233h3v1h-3zM203 233h1v1h-1zM171 234h12v1h-12zM184 234h13v1h-13zM198 234h1v1h-1zM200 234h2v1h-2zM211 234h1v1h-1zM214 234h1v1h-1zM217 234h1v1h-1zM171 235h2v1h-2zM174 235h1v1h-1zM176 235h22v1h-22zM199 235h2v1h-2zM205 235h2v1h-2zM208 235h1v1h-1zM171 236h3v1h-3zM175 236h23v1h-23zM199 236h4v1h-4zM171 237h10v1h-10zM182 237h14v1h-14zM197 237h2v1h-2zM200 237h2v1h-2zM206 237h3v1h-3zM171 238h22v1h-22zM194 238h1v1h-1zM196 238h4v1h-4zM203 238h2v1h-2zM206 238h2v1h-2zM171 239h22v1h-22zM194 239h4v1h-4zM200 239h3v1h-3zM208 239h1v1h-1zM171 240h24v1h-24zM196 240h3v1h-3zM200 240h1v1h-1zM202 240h1v1h-1zM207 240h1v1h-1zM171 241h30v1h-30zM203 241h1v1h-1zM171 242h28v1h-28zM202 242h1v1h-1zM208 242h1v1h-1zM211 242h1v1h-1zM171 243h27v1h-27zM204 243h1v1h-1zM206 243h1v1h-1zM171 244h24v1h-24zM197 244h1v1h-1zM199 244h1v1h-1zM201 244h1v1h-1zM203 244h1v1h-1zM171 245h22v1h-22zM194 245h3v1h-3zM198 245h1v1h-1zM200 245h1v1h-1zM205 245h1v1h-1zM171 246h28v1h-28zM171 247h21v1h-21zM193 247h3v1h-3zM197 247h1v1h-1zM202 247h2v1h-2zM205 247h1v1h-1zM171 248h22v1h-22zM194 248h4v1h-4zM199 248h2v1h-2zM171 249h18v1h-18zM190 249h2v1h-2zM193 249h4v1h-4zM201 249h1v1h-1zM171 250h17v1h-17zM189 250h3v1h-3zM197 250h1v1h-1zM171 251h15v1h-15zM187 251h2v1h-2zM190 251h1v1h-1zM193 251h1v1h-1zM198 251h1v1h-1zM201 251h1v1h-1zM171 252h18v1h-18zM190 252h1v1h-1zM192 252h1v1h-1zM194 252h1v1h-1zM171 253h23v1h-23zM195 253h1v1h-1zM198 253h1v1h-1zM171 254h17v1h-17zM189 254h2v1h-2zM193 254h2v1h-2zM196 254h2v1h-2zM201 254h1v1h-1z" fill="#111"/>
<rect x="170.20" y="165.50" width="101.30" height="91.10" fill="none" stroke="#333" stroke-width="1.3"/>
<path d="M166.60 165.50H170.20M167.80 181.58H170.20M167.80 177.53H170.20M167.80 174.65H170.20M167.80 172.42H170.20M167.80 170.60H170.20M167.80 169.06H170.20M167.80 167.73H170.20M167.80 166.55H170.20M166.60 188.50H170.20M167.80 204.58H170.20M167.80 200.53H170.20M167.80 197.65H170.20M167.80 195.42H170.20M167.80 193.60H170.20M167.80 192.06H170.20M167.80 190.73H170.20M167.80 189.55H170.20M166.60 211.50H170.20M167.80 227.58H170.20M167.80 223.53H170.20M167.80 220.65H170.20M167.80 218.42H170.20M167.80 216.60H170.20M167.80 215.06H170.20M167.80 213.73H170.20M167.80 212.55H170.20M166.60 234.50H170.20M167.80 250.58H170.20M167.80 246.53H170.20M167.80 243.65H170.20M167.80 241.42H170.20M167.80 239.60H170.20M167.80 238.06H170.20M167.80 236.73H170.20M167.80 235.55H170.20M178.90 256.60V258.40M183.31 256.60V258.40M186.44 256.60V258.40M188.86 256.60V258.40M190.85 256.60V258.40M192.52 256.60V258.40M193.97 256.60V258.40M195.25 256.60V258.40M196.40 256.60V259.20M203.94 256.60V258.40M208.34 256.60V258.40M211.47 256.60V258.40M213.90 256.60V258.40M215.88 256.60V258.40M217.56 256.60V258.40M219.01 256.60V258.40M220.29 256.60V258.40M221.43 256.60V259.20M228.97 256.60V258.40M233.38 256.60V258.40M236.50 256.60V258.40M238.93 256.60V258.40M240.91 256.60V258.40M242.59 256.60V258.40M244.04 256.60V258.40M245.32 256.60V258.40M246.47 256.60V259.20M254.00 256.60V258.40M258.41 256.60V258.40M261.54 256.60V258.40M263.96 256.60V258.40M265.95 256.60V258.40M267.62 256.60V258.40M269.07 256.60V258.40M270.35 256.60V258.40M271.50 256.60V259.20" stroke="#555" stroke-width="0.9" fill="none"/>
<text x="165.50" y="168.30" font-size="7.8" text-anchor="end" font-weight="bold">10<tspan font-size="5.1" dy="-2.6">3</tspan></text>
<text x="165.50" y="191.30" font-size="7.8" text-anchor="end" font-weight="bold">10<tspan font-size="5.1" dy="-2.6">2</tspan></text>
<text x="165.50" y="214.30" font-size="7.8" text-anchor="end" font-weight="bold">10<tspan font-size="5.1" dy="-2.6">1</tspan></text>
<text x="165.50" y="237.30" font-size="7.8" text-anchor="end" font-weight="bold">10<tspan font-size="5.1" dy="-2.6">0</tspan></text>
<text x="197.90" y="264.30" font-size="8.1" text-anchor="middle" font-weight="bold">10<tspan font-size="5.2" dy="-2.5">0</tspan></text>
<text x="222.18" y="264.30" font-size="8.1" text-anchor="middle" font-weight="bold">10<tspan font-size="5.2" dy="-2.5">1</tspan></text>
<text x="246.72" y="264.30" font-size="8.1" text-anchor="middle" font-weight="bold">10<tspan font-size="5.2" dy="-2.5">2</tspan></text>
<text x="265.30" y="264.30" font-size="8.1" text-anchor="middle" font-weight="bold">10<tspan font-size="5.2" dy="-2.5">3</tspan></text>
<text x="299.20" y="15.30" font-size="19.3" text-anchor="start" font-weight="bold" >C</text>
<text x="345.60" y="38.80" font-size="11.2" text-anchor="end" font-weight="bold" >CD4</text>
<text x="365.80" y="52.10" font-size="11.2" text-anchor="end" font-weight="bold" >CXCR4-YFP</text>
<path d="M391.45 36.80H396.95M394.20 34.00V39.60" stroke="#111" stroke-width="1.3"/>
<path d="M425.60 37.40H431.00" stroke="#111" stroke-width="1.4"/>
<path d="M453.05 36.80H458.55M455.80 34.00V39.60" stroke="#111" stroke-width="1.3"/>
<path d="M391.50 51.20H396.90" stroke="#111" stroke-width="1.4"/>
<path d="M425.55 50.60H431.05M428.30 47.80V53.40" stroke="#111" stroke-width="1.3"/>
<path d="M453.05 50.60H458.55M455.80 47.80V53.40" stroke="#111" stroke-width="1.3"/>
<text x="322.50" y="85.00" font-size="11.2" text-anchor="start" font-weight="bold" >IP GFP</text>
<text x="322.00" y="113.40" font-size="11.2" text-anchor="start" font-weight="bold" >Lysates</text>
<text x="334.70" y="151.60" font-size="11.2" text-anchor="start" font-weight="bold" >IP GFP</text>
<text x="482.00" y="96.70" font-size="11.2" text-anchor="start" font-weight="bold" >IB CD4</text>
<text x="479.50" y="147.30" font-size="11.2" text-anchor="start" font-weight="bold" >IB GFP</text>
<defs>
<filter id="b1" x="-50%" y="-50%" width="200%" height="200%"><feGaussianBlur stdDeviation="1.2"/></filter>
<filter id="b2" x="-50%" y="-50%" width="200%" height="200%"><feGaussianBlur stdDeviation="2"/></filter>
<filter id="b3" x="-50%" y="-50%" width="200%" height="200%"><feGaussianBlur stdDeviation="3.5"/></filter>
<clipPath id="cb1"><rect x="377" y="62.5" width="93" height="28"/></clipPath>
<clipPath id="cb2"><rect x="377" y="94" width="93" height="31"/></clipPath>
<clipPath id="cb3"><rect x="377" y="129.5" width="93" height="30.7"/></clipPath>
</defs>
<g clip-path="url(#cb1)"><rect x="377" y="62.5" width="93" height="28" fill="#e8e8e8"/><rect x="447" y="60" width="26" height="34" fill="#efefef" filter="url(#b2)"/><rect x="447.5" y="72" width="19" height="7" rx="3" fill="#b0b0b0" filter="url(#b1)"/><rect x="449" y="74" width="16" height="3" rx="1.5" fill="#a0a0a0" filter="url(#b1)"/></g>
<rect x="377" y="62.5" width="93" height="28" fill="none" stroke="#333" stroke-width="1.3"/>
<g clip-path="url(#cb2)"><rect x="377" y="94" width="93" height="31" fill="#fbfbfb"/><rect x="386.3" y="105.8" width="23.4" height="11" rx="3.5" fill="#555" filter="url(#b1)"/><rect x="387" y="109" width="22" height="6.5" rx="2.5" fill="#222" filter="url(#b1)"/><rect x="446" y="109" width="21.5" height="7" rx="3" fill="#ababab" filter="url(#b1)"/></g>
<rect x="377" y="94" width="93" height="31" fill="none" stroke="#333" stroke-width="1.3"/>
<g clip-path="url(#cb3)"><rect x="377" y="129.5" width="93" height="30.7" fill="#fbfbfb"/><ellipse cx="432.5" cy="146" rx="12" ry="17" fill="#aaa" filter="url(#b3)"/><rect x="423" y="132.5" width="19" height="23.5" rx="7" fill="#000" filter="url(#b1)"/><rect x="446" y="128" width="21" height="34" fill="#e2e2e2" filter="url(#b2)"/><ellipse cx="456.2" cy="147" rx="9" ry="5.6" fill="#3a3a3a" filter="url(#b2)"/></g>
<rect x="377" y="129.5" width="93" height="30.7" fill="none" stroke="#333" stroke-width="1.3"/>
<line x1="372.80" y1="63.00" x2="372.80" y2="94.30" stroke="#111" stroke-width="1.5" />
<line x1="474.30" y1="64.30" x2="474.30" y2="122.70" stroke="#111" stroke-width="1.5" />
<line x1="473.80" y1="128.60" x2="473.80" y2="160.40" stroke="#111" stroke-width="1.5" />
<text x="0.80" y="323.90" font-size="19.5" text-anchor="start" font-weight="bold" >B</text>
<path d="M48.60 331.30V499.10H199.30" stroke="#000" stroke-width="1.9" fill="none"/>
<text x="42.00" y="503.60" font-size="11.1" text-anchor="end" font-weight="bold" >50</text>
<text x="42.00" y="463.83" font-size="11.1" text-anchor="end" font-weight="bold" >100</text>
<text x="42.00" y="424.05" font-size="11.1" text-anchor="end" font-weight="bold" >150</text>
<text x="42.00" y="384.28" font-size="11.1" text-anchor="end" font-weight="bold" >200</text>
<text x="42.00" y="344.50" font-size="11.1" text-anchor="end" font-weight="bold" >250</text>
<text x="48.70" y="515.10" font-size="11.1" text-anchor="middle" font-weight="bold" >0</text>
<text x="67.46" y="515.10" font-size="11.1" text-anchor="middle" font-weight="bold" >1</text>
<text x="86.22" y="515.10" font-size="11.1" text-anchor="middle" font-weight="bold" >2</text>
<text x="104.98" y="515.10" font-size="11.1" text-anchor="middle" font-weight="bold" >3</text>
<text x="123.74" y="515.10" font-size="11.1" text-anchor="middle" font-weight="bold" >4</text>
<text x="142.50" y="515.10" font-size="11.1" text-anchor="middle" font-weight="bold" >5</text>
<text x="161.26" y="515.10" font-size="11.1" text-anchor="middle" font-weight="bold" >6</text>
<text x="180.02" y="515.10" font-size="11.1" text-anchor="middle" font-weight="bold" >7</text>
<text x="198.78" y="515.10" font-size="11.1" text-anchor="middle" font-weight="bold" >8</text>
<path d="M44.20 499.10H48.60M44.20 459.33H48.60M44.20 419.55H48.60M44.20 379.78H48.60M44.20 340.00H48.60M48.50 499.10V503.50M67.26 499.10V503.50M86.02 499.10V503.50M104.78 499.10V503.50M123.54 499.10V503.50M142.30 499.10V503.50M161.06 499.10V503.50M179.82 499.10V503.50M198.58 499.10V503.50" stroke="#000" stroke-width="1.7" fill="none"/>
<text transform="translate(11.90,419.80) rotate(-90)" font-size="11.4" text-anchor="middle" font-weight="bold">Surface CCR5 (% of control)</text>
<text x="123.80" y="540.20" font-size="11.2" text-anchor="middle" font-weight="bold" >YFP (AU)</text>
<line x1="48.60" y1="459.33" x2="194.6" y2="459.33" stroke="#222" stroke-width="1.3" stroke-dasharray="1.2,0.9"/>
<path d="M58.50 442.30V464.60M55.90 442.30H61.10M55.90 464.60H61.10" stroke="#333" stroke-width="1.2" fill="none"/>
<path d="M64.90 457.70V489.20M62.30 457.70H67.50M62.30 489.20H67.50" stroke="#333" stroke-width="1.2" fill="none"/>
<path d="M83.80 449.50V474.60M81.20 449.50H86.40M81.20 474.60H86.40" stroke="#333" stroke-width="1.2" fill="none"/>
<path d="M73.40 462.80H93.10M73.40 460.20V465.40M93.10 460.20V465.40" stroke="#333" stroke-width="1.2" fill="none"/>
<path d="M99.50 466.20V493.80M96.90 466.20H102.10M96.90 493.80H102.10" stroke="#333" stroke-width="1.2" fill="none"/>
<path d="M96.00 479.70H103.00M96.00 477.10V482.30M103.00 477.10V482.30" stroke="#333" stroke-width="1.2" fill="none"/>
<path d="M146.70 444.40V467.50M144.10 444.40H149.30M144.10 467.50H149.30" stroke="#333" stroke-width="1.2" fill="none"/>
<path d="M141.90 456.30H151.50M141.90 453.70V458.90M151.50 453.70V458.90" stroke="#333" stroke-width="1.2" fill="none"/>
<path d="M74.90 445.40V460.00M72.30 445.40H77.50M72.30 460.00H77.50" stroke="#000" stroke-width="1.2" fill="none"/>
<path d="M94.30 450.50V464.60M91.70 450.50H96.90M91.70 464.60H96.90" stroke="#000" stroke-width="1.2" fill="none"/>
<path d="M114.90 442.80V458.80M112.30 442.80H117.50M112.30 458.80H117.50" stroke="#000" stroke-width="1.2" fill="none"/>
<path d="M134.00 454.60V466.00M131.40 454.60H136.60M131.40 466.00H136.60" stroke="#000" stroke-width="1.2" fill="none"/>
<path d="M59.40 399.50V440.00M56.80 399.50H62.00M56.80 440.00H62.00" stroke="#000" stroke-width="1.2" fill="none"/>
<path d="M71.50 387.40V420.40M68.90 387.40H74.10M68.90 420.40H74.10" stroke="#000" stroke-width="1.2" fill="none"/>
<path d="M76.90 347.40V387.00M74.30 347.40H79.50M74.30 387.00H79.50" stroke="#000" stroke-width="1.2" fill="none"/>
<path d="M83.30 354.50V394.10M80.70 354.50H85.90M80.70 394.10H85.90" stroke="#000" stroke-width="1.2" fill="none"/>
<path d="M90.30 379.30V424.10M87.70 379.30H92.90M87.70 424.10H92.90" stroke="#000" stroke-width="1.2" fill="none"/>
<path d="M97.10 384.30V422.40M94.50 384.30H99.70M94.50 422.40H99.70" stroke="#000" stroke-width="1.2" fill="none"/>
<path d="M106.00 395.80V425.60M103.40 395.80H108.60M103.40 425.60H108.60" stroke="#000" stroke-width="1.2" fill="none"/>
<path d="M116.40 409.70V435.00M113.80 409.70H119.00M113.80 435.00H119.00" stroke="#000" stroke-width="1.2" fill="none"/>
<path d="M131.70 405.40V440.60M129.10 405.40H134.30M129.10 440.60H134.30" stroke="#000" stroke-width="1.2" fill="none"/>
<path d="M146.50 410.20V434.20M143.90 410.20H149.10M143.90 434.20H149.10" stroke="#000" stroke-width="1.2" fill="none"/>
<path d="M161.50 417.50V448.80M158.90 417.50H164.10M158.90 448.80H164.10" stroke="#000" stroke-width="1.2" fill="none"/>
<path d="M152.30 432.30H168.70M152.30 429.70V434.90M168.70 429.70V434.90" stroke="#000" stroke-width="1.2" fill="none"/>
<path d="M173.50 431.90V467.50M170.90 431.90H176.10M170.90 467.50H176.10" stroke="#000" stroke-width="1.2" fill="none"/>
<path d="M189.00 464.60V484.00M186.40 464.60H191.60M186.40 484.00H191.60" stroke="#000" stroke-width="1.2" fill="none"/>
<path d="M182.70 474.20H196.20M182.70 471.60V476.80M196.20 471.60V476.80" stroke="#000" stroke-width="1.2" fill="none"/>
<polyline points="48.60,459.40 59.40,420.40 71.50,404.60 76.90,367.40 83.30,374.30 90.30,401.90 97.10,403.00 106.00,411.80 116.40,422.00 131.70,423.30 146.50,421.90 161.50,432.30 173.50,450.20 189.00,474.20" fill="none" stroke="#000" stroke-width="2"/>
<circle cx="48.60" cy="459.40" r="2.85" fill="#000"/>
<rect x="56.80" y="417.80" width="5.2" height="5.2" fill="#000"/>
<circle cx="71.50" cy="404.60" r="2.85" fill="#000"/>
<circle cx="76.90" cy="367.40" r="2.85" fill="#000"/>
<circle cx="83.30" cy="374.30" r="2.85" fill="#000"/>
<rect x="87.70" y="399.30" width="5.2" height="5.2" fill="#000"/>
<rect x="94.50" y="400.40" width="5.2" height="5.2" fill="#000"/>
<circle cx="106.00" cy="411.80" r="2.85" fill="#000"/>
<rect x="113.80" y="419.40" width="5.2" height="5.2" fill="#000"/>
<circle cx="131.70" cy="423.30" r="2.85" fill="#000"/>
<rect x="143.90" y="419.30" width="5.2" height="5.2" fill="#000"/>
<circle cx="161.50" cy="432.30" r="2.85" fill="#000"/>
<circle cx="173.50" cy="450.20" r="2.85" fill="#000"/>
<circle cx="189.00" cy="474.20" r="2.85" fill="#000"/>
<rect x="56.00" y="448.30" width="5" height="5" fill="#fff" stroke="#666" stroke-width="1"/>
<rect x="62.40" y="471.00" width="5" height="5" fill="#fff" stroke="#666" stroke-width="1"/>
<rect x="81.30" y="460.30" width="5" height="5" fill="#fff" stroke="#666" stroke-width="1"/>
<rect x="97.00" y="477.20" width="5" height="5" fill="#fff" stroke="#666" stroke-width="1"/>
<rect x="104.70" y="458.30" width="5" height="5" fill="#fff" stroke="#666" stroke-width="1"/>
<rect x="144.20" y="453.80" width="5" height="5" fill="#fff" stroke="#666" stroke-width="1"/>
<path d="M71.10 456.10L74.90 449.10L78.70 456.10Z" fill="#000"/>
<path d="M90.50 459.60L94.30 452.60L98.10 459.60Z" fill="#000"/>
<path d="M111.10 452.20L114.90 445.20L118.70 452.20Z" fill="#000"/>
<path d="M130.20 463.80L134.00 456.80L137.80 463.80Z" fill="#000"/>
<path d="M105 384.4V392.2M101.6 386.4L108.4 390.2M101.6 390.2L108.4 386.4" stroke="#000" stroke-width="1.5"/>
<circle cx="135.4" cy="349.8" r="2.5" fill="#000"/>
<rect x="133.2" y="366.8" width="4.4" height="4.4" fill="#fff" stroke="#555" stroke-width="0.9"/>
<path d="M131.8 392.3L135.4 385.4L139 392.3Z" fill="#000"/>
<text x="150.80" y="353.80" font-size="11.2" text-anchor="start" font-weight="bold" >CD4-YFP</text>
<text x="150.80" y="372.50" font-size="11.2" text-anchor="start" font-weight="bold" >OBR-YFP</text>
<text x="150.80" y="392.30" font-size="11.2" text-anchor="start" font-weight="bold" >YFP</text>
<text x="298.00" y="323.90" font-size="19.5" text-anchor="start" font-weight="bold" >D</text>
<path d="M346.40 331.60V499.10H497.00" stroke="#000" stroke-width="1.9" fill="none"/>
<text x="340.40" y="504.10" font-size="11.1" text-anchor="end" font-weight="bold" >50</text>
<text x="340.40" y="464.33" font-size="11.1" text-anchor="end" font-weight="bold" >100</text>
<text x="340.40" y="424.55" font-size="11.1" text-anchor="end" font-weight="bold" >150</text>
<text x="340.40" y="384.78" font-size="11.1" text-anchor="end" font-weight="bold" >200</text>
<text x="340.40" y="345.00" font-size="11.1" text-anchor="end" font-weight="bold" >250</text>
<text x="367.15" y="518.50" font-size="11.1" text-anchor="middle" font-weight="bold" >1</text>
<text x="385.80" y="518.50" font-size="11.1" text-anchor="middle" font-weight="bold" >2</text>
<text x="404.45" y="518.50" font-size="11.1" text-anchor="middle" font-weight="bold" >3</text>
<text x="423.10" y="518.50" font-size="11.1" text-anchor="middle" font-weight="bold" >4</text>
<text x="441.75" y="518.50" font-size="11.1" text-anchor="middle" font-weight="bold" >5</text>
<text x="460.40" y="518.50" font-size="11.1" text-anchor="middle" font-weight="bold" >6</text>
<text x="479.05" y="518.50" font-size="11.1" text-anchor="middle" font-weight="bold" >7</text>
<text x="497.70" y="518.50" font-size="11.1" text-anchor="middle" font-weight="bold" >8</text>
<path d="M342.00 499.10H346.40M342.00 459.33H346.40M342.00 419.55H346.40M342.00 379.78H346.40M342.00 340.00H346.40M365.65 499.10V503.50M384.30 499.10V503.50M402.95 499.10V503.50M421.60 499.10V503.50M440.25 499.10V503.50M458.90 499.10V503.50M477.55 499.10V503.50M496.20 499.10V503.50" stroke="#000" stroke-width="1.7" fill="none"/>
<text transform="translate(311.70,412.60) rotate(-90)" font-size="11.4" text-anchor="middle" font-weight="bold">Surface CXCR4 (% of control)</text>
<text x="424.30" y="538.90" font-size="11.2" text-anchor="middle" font-weight="bold" >YFP (AU)</text>
<line x1="346.40" y1="459.33" x2="496.6" y2="459.33" stroke="#000" stroke-width="1.5" stroke-dasharray="2.8,1.4"/>
<polyline points="347,457.4 353.9,476.9 355.9,486.7 367.6,455.1 368.3,469.0 396.5,475.3 421.2,474.7 422.3,477.7 440.8,478.2 449.5,471.2 454.2,475.8 468.9,478.2 496.2,481.8" fill="none" stroke="#000" stroke-width="1.1"/>
<polyline points="347,459.1 351.8,458.7 358.8,470.3 366.9,486.0 372.0,469.0 378.4,477.3 382.8,478.6 397.9,478.4" fill="none" stroke="#000" stroke-width="1.1"/>
<circle cx="347" cy="457.4" r="2.8" fill="#000"/>
<circle cx="353.9" cy="476.9" r="2.8" fill="#000"/>
<circle cx="355.9" cy="486.7" r="2.8" fill="#000"/>
<circle cx="367.6" cy="455.1" r="2.8" fill="#000"/>
<circle cx="368.3" cy="469.0" r="2.8" fill="#000"/>
<circle cx="396.5" cy="475.3" r="2.8" fill="#000"/>
<circle cx="421.2" cy="474.7" r="2.8" fill="#000"/>
<circle cx="422.3" cy="477.7" r="2.8" fill="#000"/>
<circle cx="440.8" cy="478.2" r="2.8" fill="#000"/>
<circle cx="449.5" cy="471.2" r="2.8" fill="#000"/>
<circle cx="454.2" cy="475.8" r="2.8" fill="#000"/>
<circle cx="468.9" cy="478.2" r="2.8" fill="#000"/>
<circle cx="496.2" cy="481.8" r="2.8" fill="#000"/>
<rect x="344.50" y="456.60" width="5" height="5" fill="#fff" stroke="#444" stroke-width="1"/>
<rect x="349.30" y="456.20" width="5" height="5" fill="#fff" stroke="#444" stroke-width="1"/>
<rect x="356.30" y="467.80" width="5" height="5" fill="#fff" stroke="#444" stroke-width="1"/>
<rect x="364.40" y="483.50" width="5" height="5" fill="#fff" stroke="#444" stroke-width="1"/>
<rect x="369.50" y="466.50" width="5" height="5" fill="#fff" stroke="#444" stroke-width="1"/>
<rect x="375.90" y="474.80" width="5" height="5" fill="#fff" stroke="#444" stroke-width="1"/>
<rect x="380.30" y="476.10" width="5" height="5" fill="#fff" stroke="#444" stroke-width="1"/>
<rect x="395.40" y="475.90" width="5" height="5" fill="#fff" stroke="#444" stroke-width="1"/>
<circle cx="420.2" cy="379.8" r="2.6" fill="#000"/>
<rect x="418.2" y="392.8" width="4" height="4" fill="#fff" stroke="#555" stroke-width="0.9"/>
<text x="430.80" y="383.80" font-size="11.2" text-anchor="start" font-weight="bold" >CD4-YFP</text>
<text x="430.80" y="398.10" font-size="11.2" text-anchor="start" font-weight="bold" >OBR-YFP</text>
</svg></body></html>
